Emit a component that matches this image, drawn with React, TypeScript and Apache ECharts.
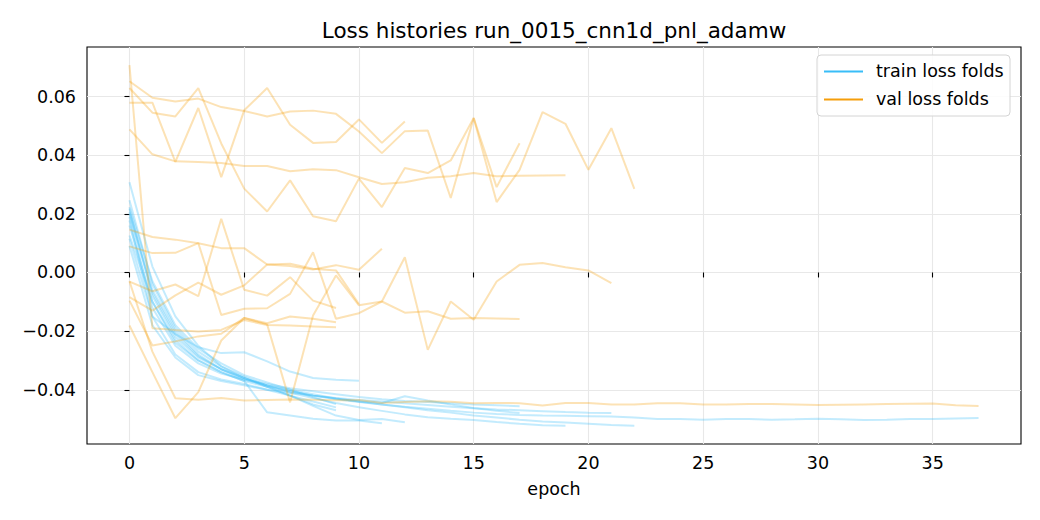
import React, { useEffect, useRef } from "react";
import * as echarts from "echarts";

const TITLE = "Loss histories run_0015_cnn1d_pnl_adamw";
const X_NAME = "epoch";
const LEGEND_TRAIN = "train loss folds";
const LEGEND_VAL = "val loss folds";
const X_TICKS = [0, 5, 10, 15, 20, 25, 30, 35];
const Y_TICKS = [-0.04, -0.02, 0, 0.02, 0.04, 0.06];
const TRAIN_COLOR = "#38bdf8";
const VAL_COLOR = "#f59e0b";

// fold 1
const train01 = [0.0217, -0.0080, -0.0220, -0.0290, -0.0330, -0.0360, -0.0385, -0.0400, -0.0415, -0.0430, -0.0440, -0.0450, -0.0460, -0.0470, -0.0478, -0.0488, -0.0495, -0.0502, -0.0508, -0.0512, -0.0516, -0.0520, -0.0523];
const val01 = [0.0652, 0.0596, 0.0583, 0.0593, 0.0564, 0.0551, 0.0532, 0.0549, 0.0552, 0.0541, 0.0481, 0.0407, 0.0482, 0.0484, 0.0254, 0.0527, 0.0240, 0.0350, 0.0547, 0.0507, 0.0350, 0.0492, 0.0285];
// fold 2
const train02 = [0.0189, -0.0120, -0.0250, -0.0310, -0.0345, -0.0365, -0.0380, -0.0395, -0.0405, -0.0415, -0.0425, -0.0432, -0.0438, -0.0442, -0.0446, -0.0450, -0.0453, -0.0456];
const val02 = [0.0629, 0.0545, 0.0532, 0.0629, 0.0440, 0.0286, 0.0208, 0.0314, 0.0192, 0.0175, 0.0320, 0.0223, 0.0356, 0.0339, 0.0382, 0.0527, 0.0291, 0.0441];
// fold 3
const train03 = [0.0246, -0.0040, -0.0190, -0.0270, -0.0320, -0.0355, -0.0385, -0.0410, -0.0428, -0.0445, -0.0460, -0.0472, -0.0484, -0.0494, -0.0499, -0.0503, -0.0510, -0.0516, -0.0521, -0.0523];
const val03 = [0.0488, 0.0403, 0.0379, 0.0377, 0.0373, 0.0363, 0.0363, 0.0345, 0.0352, 0.0349, 0.0325, 0.0302, 0.0308, 0.0323, 0.0328, 0.0339, 0.0328, 0.0330, 0.0331, 0.0332];
// fold 4
const train04 = [0.0206, -0.0060, -0.0200, -0.0280, -0.0330, -0.0360, -0.0390, -0.0420, -0.0455, -0.0488, -0.0503, -0.0500, -0.0511];
const val04 = [0.0579, 0.0579, 0.0377, 0.0561, 0.0325, 0.0553, 0.0629, 0.0504, 0.0442, 0.0445, 0.0522, 0.0442, 0.0515];
// fold 5
const train05 = [0.0126, -0.0100, -0.0230, -0.0300, -0.0340, -0.0370, -0.0477, -0.0488, -0.0499, -0.0505, -0.0505, -0.0514];
const val05 = [0.0146, 0.0121, 0.0112, 0.0100, 0.0083, 0.0083, 0.0027, 0.0022, 0.0010, 0.0025, 0.0009, 0.0081];
// fold 6
const train06 = [0.0160, -0.0100, -0.0240, -0.0300, -0.0340, -0.0370, -0.0390, -0.0405, -0.0420, -0.0430, -0.0440, -0.0445, -0.0422, -0.0437, -0.0450, -0.0462, -0.0472, -0.0479];
const val06 = [0.0089, 0.0066, 0.0067, 0.0100, -0.0145, -0.0124, -0.0122, -0.0073, 0.0069, -0.0158, -0.0139, -0.0099, -0.0137, -0.0132, -0.0158, -0.0155, -0.0157, -0.0159];
// fold 7
const train07 = [0.0090, -0.0180, -0.0290, -0.0350, -0.0370, -0.0385, -0.0400, -0.0410, -0.0420, -0.0428, -0.0435, -0.0440, -0.0446, -0.0452, -0.0458, -0.0463, -0.0467, -0.0470, -0.0473, -0.0476, -0.0478, -0.0479];
const val07 = [-0.0181, -0.0340, -0.0497, -0.0408, -0.0232, -0.0155, -0.0177, -0.0443, -0.0147, -0.0010, -0.0112, -0.0099, 0.0052, -0.0264, -0.0099, -0.0161, -0.0031, 0.0026, 0.0032, 0.0018, 0.0007, -0.0036];
// fold 8
const train08 = [0.0223, -0.0030, -0.0180, -0.0260, -0.0310, -0.0350, -0.0375, -0.0400, -0.0425, -0.0449];
const val08 = [-0.0031, -0.0064, -0.0041, -0.0081, 0.0183, -0.0059, -0.0079, -0.0016, -0.0096, -0.0121];
// fold 9
const train09 = [0.0115, -0.0150, -0.0210, -0.0255, -0.0275, -0.0272, -0.0303, -0.0338, -0.0360, -0.0366, -0.0369];
const val09 = [-0.0084, -0.0130, -0.0078, -0.0035, -0.0076, -0.0044, 0.0027, 0.0030, 0.0013, 0.0007, -0.0108];
// fold 10
const train10 = [0.0308, 0.0020, -0.0150, -0.0250, -0.0320, -0.0360, -0.0390, -0.0420, -0.0450, -0.0470];
const val10 = [0.0707, -0.0190, -0.0196, -0.0201, -0.0196, -0.0162, -0.0179, -0.0181, -0.0184, -0.0187];
// fold 11
const train11 = [0.0177, -0.0150, -0.0280, -0.0340, -0.0365, -0.0380, -0.0400, -0.0420, -0.0440, -0.0460];
const val11 = [-0.0096, -0.0249, -0.0235, -0.0218, -0.0209, -0.0155, -0.0173, -0.0150, -0.0158, -0.0170];
// fold 12
const train12 = [0.0200, -0.0070, -0.0210, -0.0285, -0.0330, -0.0365, -0.0385, -0.0405, -0.0420, -0.0432, -0.0442, -0.0450, -0.0458, -0.0465, -0.0472, -0.0478, -0.0483, -0.0486, -0.0488, -0.0489, -0.0490, -0.0491, -0.0495, -0.0500, -0.0500, -0.0502, -0.0500, -0.0500, -0.0502, -0.0501, -0.0499, -0.0501, -0.0503, -0.0502, -0.0500, -0.0500, -0.0498, -0.0496];
const val12 = [-0.0030, -0.0270, -0.0429, -0.0434, -0.0428, -0.0437, -0.0435, -0.0433, -0.0434, -0.0436, -0.0435, -0.0445, -0.0442, -0.0439, -0.0441, -0.0446, -0.0445, -0.0446, -0.0454, -0.0445, -0.0445, -0.0450, -0.0450, -0.0446, -0.0446, -0.0450, -0.0450, -0.0449, -0.0449, -0.0450, -0.0452, -0.0451, -0.0450, -0.0449, -0.0448, -0.0447, -0.0453, -0.0455];

const TRAIN_FOLDS = [train01, train02, train03, train04, train05, train06, train07, train08, train09, train10, train11, train12];
const VAL_FOLDS = [val01, val02, val03, val04, val05, val06, val07, val08, val09, val10, val11, val12];

const FONT = "DejaVu Sans";
const FS = 17.5;

function fmtY(v: number): string {
  const s = Math.abs(v).toFixed(2);
  return v < -1e-9 ? "\u2212" + s : s;
}

export default function App() {
  const ref = useRef<HTMLDivElement>(null);
  useEffect(() => {
    if (!ref.current) return;
    const chart = echarts.init(ref.current, null, { renderer: "svg" });
    const series: any[] = [];
    TRAIN_FOLDS.forEach((arr) => {
      series.push({
        type: "line",
        name: LEGEND_TRAIN,
        data: arr.map((v, i) => [i, v]),
        symbol: "none",
        showSymbol: false,
        silent: true,
        lineStyle: { color: TRAIN_COLOR, width: 2, opacity: 0.3 },
        itemStyle: { color: TRAIN_COLOR },
      });
    });
    VAL_FOLDS.forEach((arr) => {
      series.push({
        type: "line",
        name: LEGEND_VAL,
        data: arr.map((v, i) => [i, v]),
        symbol: "none",
        showSymbol: false,
        silent: true,
        lineStyle: { color: VAL_COLOR, width: 2, opacity: 0.3 },
        itemStyle: { color: VAL_COLOR },
      });
    });

    const L = 87, R = 1021, T = 47, B = 444;
    chart.setOption({
      animation: false,
      backgroundColor: "#ffffff",
      textStyle: { fontFamily: FONT },
      grid: {
        left: L,
        right: 1040 - R,
        top: T,
        bottom: 520 - B,
        show: true,
        borderColor: "#000000",
        borderWidth: 1.1,
        backgroundColor: "transparent",
        containLabel: false,
      },
      xAxis: {
        type: "value",
        min: -1.85,
        max: 38.85,
        axisLine: { show: false },
        axisTick: {
          show: true,
          inside: false,
          length: 5,
          lineStyle: { color: "#000", width: 1.1 },
          customValues: X_TICKS,
        },
        axisLabel: {
          customValues: X_TICKS,
          margin: 10,
          fontSize: FS,
          color: "#000",
          fontFamily: FONT,
          formatter: (v: number) => String(Math.round(v)),
        },
        splitLine: { show: true, lineStyle: { color: "#e8e8e8", width: 1.1 } },
        name: X_NAME,
        nameLocation: "middle",
        nameGap: 36,
        nameTextStyle: { fontSize: FS, color: "#000", fontFamily: FONT },
      },
      yAxis: {
        type: "value",
        min: -0.0585,
        max: 0.0769,
        axisLine: { show: false },
        axisTick: {
          show: true,
          inside: false,
          length: 5,
          lineStyle: { color: "#000", width: 1.1 },
          customValues: Y_TICKS,
        },
        axisLabel: {
          customValues: Y_TICKS,
          margin: 11,
          fontSize: FS,
          color: "#000",
          fontFamily: FONT,
          formatter: (v: number) => fmtY(v),
        },
        splitLine: { show: true, lineStyle: { color: "#e8e8e8", width: 1.1 } },
      },
      series,
      graphic: [
        {
          type: "text",
          x: (L + R) / 2,
          y: 30,
          z: 100,
          style: {
            text: TITLE,
            fontSize: 21.5,
            fontFamily: FONT,
            fill: "#000",
            align: "center",
            verticalAlign: "middle",
          },
        },
        {
          type: "rect",
          z: 100,
          shape: { x: 817, y: 55, width: 193, height: 61, r: 4 },
          style: { fill: "rgba(255,255,255,0.85)", stroke: "#d4d4d4", lineWidth: 1 },
        },
        {
          type: "line",
          z: 101,
          shape: { x1: 824, y1: 71.5, x2: 863, y2: 71.5 },
          style: { stroke: TRAIN_COLOR, lineWidth: 2 },
        },
        {
          type: "text",
          z: 101,
          x: 876,
          y: 71,
          style: { text: LEGEND_TRAIN, fontSize: FS, fontFamily: FONT, fill: "#000", verticalAlign: "middle" },
        },
        {
          type: "line",
          z: 101,
          shape: { x1: 824, y1: 99.5, x2: 863, y2: 99.5 },
          style: { stroke: VAL_COLOR, lineWidth: 2 },
        },
        {
          type: "text",
          z: 101,
          x: 876,
          y: 99,
          style: { text: LEGEND_VAL, fontSize: FS, fontFamily: FONT, fill: "#000", verticalAlign: "middle" },
        },
      ],
    });
    return () => chart.dispose();
  }, []);
  return (
    <div
      ref={ref}
      style={{ position: "fixed", left: 0, top: 0, width: 1040, height: 520, background: "#fff" }}
    />
  );
}
